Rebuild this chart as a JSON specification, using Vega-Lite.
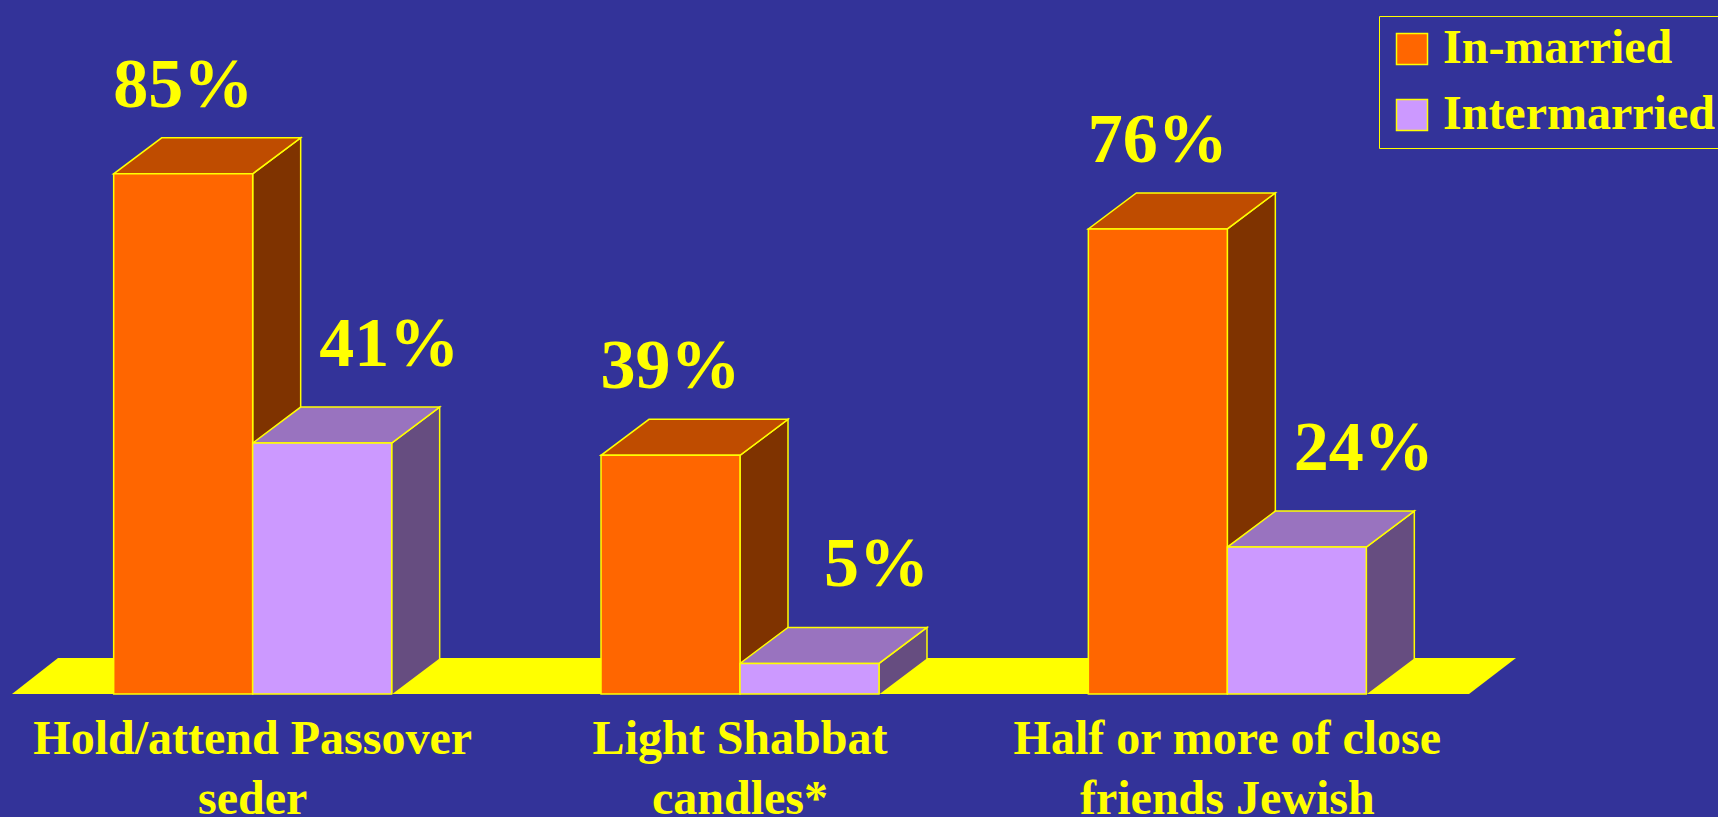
{
  "$schema": "https://vega.github.io/schema/vega-lite/v6.json",
  "width": 1462,
  "height": 694,
  "autosize": {"type": "none"},
  "padding": {"left": 9, "top": 0, "right": 247, "bottom": 123},
  "background": "#333399",
  "config": {
    "view": {"stroke": null},
    "axisX": {
      "title": null,
      "domain": false,
      "ticks": false,
      "tickSize": 0,
      "grid": false,
      "labelAngle": 0,
      "labelFont": "Liberation Serif",
      "labelFontWeight": "bold",
      "labelFontSize": 48,
      "labelColor": "#FFFF00",
      "labelBaseline": "alphabetic",
      "labelPadding": 59,
      "labelLineHeight": 60,
      "labelLimit": 0,
      "labelOverlap": false
    }
  },
  "data": {
    "values": [
      {"cat": "Hold/attend Passover seder", "series": "In-married", "value": 85, "label": "85%"},
      {"cat": "Hold/attend Passover seder", "series": "Intermarried", "value": 41, "label": "41%"},
      {"cat": "Light Shabbat candles*", "series": "In-married", "value": 39, "label": "39%"},
      {"cat": "Light Shabbat candles*", "series": "Intermarried", "value": 5, "label": "5%"},
      {"cat": "Half or more of close friends Jewish", "series": "In-married", "value": 76, "label": "76%"},
      {"cat": "Half or more of close friends Jewish", "series": "Intermarried", "value": 24, "label": "24%"}
    ]
  },
  "layer": [
    {
      "data": {"values": [{"item": "floor"}]},
      "mark": {"type": "point", "filled": true, "opacity": 1, "size": 4, "fill": "#FFFF00", "strokeWidth": 0,
        "shape": "M-728,0 L-682,-36 L776,-36 L729,0 Z"},
      "encoding": {
        "x": {"datum": "Light Shabbat candles*", "type": "nominal", "title": null,
          "scale": {"domain": ["Hold/attend Passover seder", "Light Shabbat candles*", "Half or more of close friends Jewish"], "paddingInner": 0.4296, "paddingOuter": 0.2148},
          "axis": {"labelExpr": "datum.value == 'Hold/attend Passover seder' ? ['Hold/attend Passover', 'seder'] : datum.value == 'Light Shabbat candles*' ? ['Light Shabbat', 'candles*'] : ['Half or more of close', 'friends Jewish']"}},
        "y": {"datum": 0, "type": "quantitative", "scale": {"domain": [0, 113.4], "nice": false}, "axis": null}
      }
    },
    {
      "mark": {"type": "point", "filled": true, "opacity": 1, "size": 4, "stroke": "#FFFF00", "strokeWidth": 1.5, "clip": true,
        "shape": "M69.5,0 L117.5,-36 L117.5,760 L69.5,760 Z"},
      "encoding": {
        "x": {"field": "cat", "type": "nominal", "title": null, "sort": null},
        "xOffset": {"field": "series", "type": "nominal", "scale": {"paddingInner": 0, "paddingOuter": 0}},
        "y": {"field": "value", "type": "quantitative"},
        "fill": {"condition": {"test": "datum.series == 'In-married'", "value": "#7F3300"}, "value": "#664D80"}
      }
    },
    {
      "mark": {"type": "point", "filled": true, "opacity": 1, "size": 4, "fill": "#FFFF00", "strokeWidth": 0, "clip": true,
        "shape": "M69.5,0.5 L118,-36 L120,-36 L120,0 L69.5,0 Z"},
      "encoding": {
        "x": {"field": "cat", "type": "nominal", "title": null, "sort": null},
        "xOffset": {"field": "series", "type": "nominal"},
        "y": {"datum": 0, "type": "quantitative"}
      }
    },
    {
      "mark": {"type": "point", "filled": true, "opacity": 1, "size": 4, "stroke": "#FFFF00", "strokeWidth": 1.5,
        "shape": "M-69.5,0 L69.5,0 L117.5,-36 L-21.5,-36 Z"},
      "encoding": {
        "x": {"field": "cat", "type": "nominal", "title": null, "sort": null},
        "xOffset": {"field": "series", "type": "nominal"},
        "y": {"field": "value", "type": "quantitative"},
        "fill": {"condition": {"test": "datum.series == 'In-married'", "value": "#BF4C00"}, "value": "#9973BF"}
      }
    },
    {
      "mark": {"type": "bar", "stroke": "#FFFF00", "strokeWidth": 1.5},
      "encoding": {
        "x": {"field": "cat", "type": "nominal", "title": null, "sort": null},
        "xOffset": {"field": "series", "type": "nominal"},
        "y": {"field": "value", "type": "quantitative"},
        "fill": {
          "field": "series", "type": "nominal",
          "scale": {"domain": ["In-married", "Intermarried"], "range": ["#FF6600", "#CC99FF"]},
          "legend": {
            "orient": "none", "legendX": 1370, "legendY": 16, "title": null,
            "symbolType": "square", "symbolSize": 961, "symbolStrokeColor": "#FFFF00", "symbolStrokeWidth": 1.5, "symbolOpacity": 1,
            "labelFont": "Liberation Serif", "labelFontWeight": "bold", "labelFontSize": 48, "labelColor": "#FFFF00",
            "labelOffset": 7, "rowPadding": 18, "padding": 9, "strokeColor": "#FFFF00", "labelLimit": 0
          }
        }
      }
    },
    {
      "transform": [{"filter": "datum.series == 'In-married'"}],
      "mark": {"type": "text", "font": "Liberation Serif", "fontWeight": "bold", "fontSize": 70, "fill": "#FFFF00",
        "align": "center", "baseline": "alphabetic", "dx": 0, "dy": -67},
      "encoding": {
        "x": {"field": "cat", "type": "nominal", "title": null, "sort": null},
        "xOffset": {"field": "series", "type": "nominal"},
        "y": {"field": "value", "type": "quantitative"},
        "text": {"field": "label", "type": "nominal"}
      }
    },
    {
      "transform": [{"filter": "datum.series == 'Intermarried'"}],
      "mark": {"type": "text", "font": "Liberation Serif", "fontWeight": "bold", "fontSize": 70, "fill": "#FFFF00",
        "align": "center", "baseline": "alphabetic", "dx": 67, "dy": -77},
      "encoding": {
        "x": {"field": "cat", "type": "nominal", "title": null, "sort": null},
        "xOffset": {"field": "series", "type": "nominal"},
        "y": {"field": "value", "type": "quantitative"},
        "text": {"field": "label", "type": "nominal"}
      }
    }
  ]
}
